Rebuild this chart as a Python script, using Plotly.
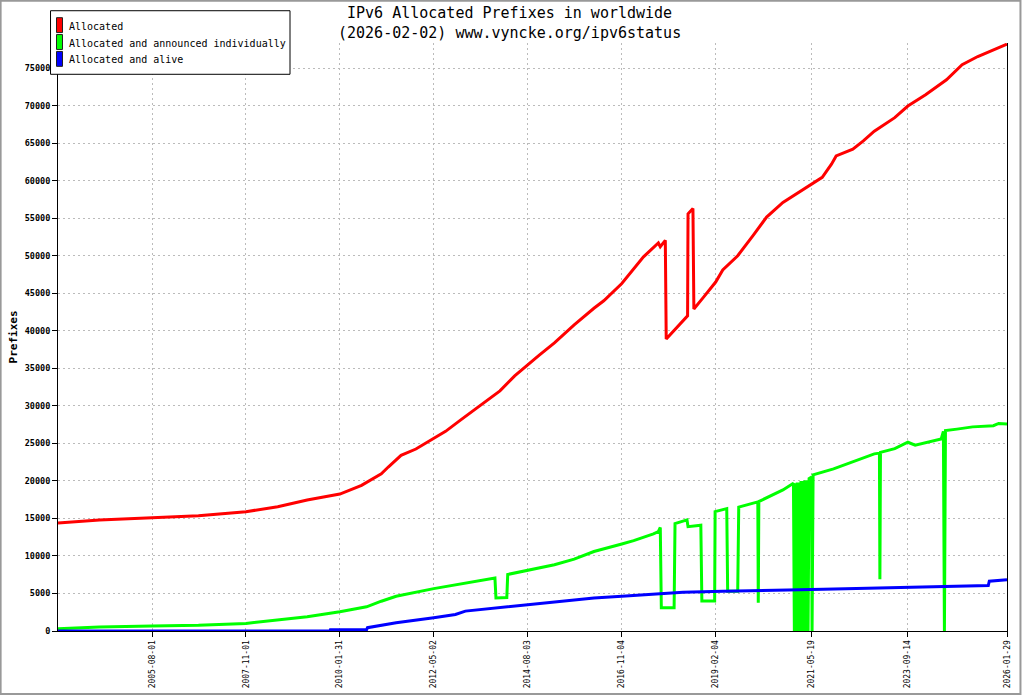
import plotly.graph_objects as go

# Prefix counts
ALLOC_DATES = [
    "2003-04-30", "2004-04-27", "2005-08-01", "2006-09-11", "2007-11-01", "2008-08-05",
    "2009-04-20", "2009-10-10", "2010-01-31", "2010-08-09", "2010-11-04", "2011-01-29",
    "2011-03-31", "2011-07-21", "2011-11-28", "2012-05-02", "2012-08-14", "2012-12-22",
    "2013-06-13", "2013-12-03", "2014-04-11", "2014-08-03", "2014-11-15", "2015-03-25",
    "2015-09-14", "2016-03-05", "2016-05-30", "2016-11-04", "2017-05-13", "2017-09-20",
    "2017-10-07", "2017-11-20", "2017-11-28", "2018-06-03", "2018-06-07", "2018-07-20",
    "2018-07-28", "2018-10-14", "2019-02-04", "2019-04-07", "2019-08-16", "2019-12-26",
    "2020-04-25", "2020-09-15", "2021-01-31", "2021-05-19", "2021-08-25", "2021-11-14",
    "2021-12-25", "2022-05-20", "2022-08-20", "2022-11-24", "2023-05-22", "2023-09-14",
    "2024-02-16", "2024-08-17", "2025-01-01", "2025-05-18", "2025-10-02", "2026-01-29",
]
ALLOC_VALUES = [
    14400, 14800, 15100, 15350, 15900, 16550,
    17450, 17900, 18250, 19400, 20150, 20950,
    21850, 23400, 24250, 25600, 26600, 28100,
    30000, 32000, 34000, 35500, 36800, 38400,
    40800, 43000, 44000, 46300, 49850, 51700,
    51200, 52050, 38900, 42000, 55600, 56300,
    42900, 44350, 46500, 48100, 50000, 52650,
    55150, 57100, 58450, 59550, 60450, 62200,
    63300, 64200, 65300, 66600, 68400, 69950,
    71450, 73450, 75450, 76550, 77400, 78200,
]

ANNOUNCED_DATES = [
    "2003-04-30", "2004-04-27", "2005-08-01", "2006-09-11", "2007-11-01", "2008-08-05",
    "2009-04-20", "2010-01-31", "2010-09-22", "2011-01-29", "2011-06-08", "2012-05-02",
    "2013-02-03", "2013-10-20", "2013-10-29", "2014-02-01", "2014-02-09", "2014-08-03",
    "2015-03-25", "2015-09-14", "2016-03-05", "2016-11-04", "2017-02-16", "2017-08-08",
    "2017-09-20", "2017-10-07", "2017-10-16", "2018-02-05", "2018-02-13", "2018-05-29",
    "2018-06-07", "2018-09-27", "2018-10-06", "2019-01-26", "2019-01-30", "2019-05-12",
    "2019-05-20", "2019-08-16", "2019-08-25", "2020-02-08", "2020-02-12", "2020-02-17",
    "2020-09-15", "2020-12-16", "2020-12-24", "2021-01-01", "2021-01-09", "2021-01-18",
    "2021-01-26", "2021-02-03", "2021-02-11", "2021-02-20", "2021-02-28", "2021-03-10",
    "2021-03-19", "2021-03-28", "2021-04-06", "2021-04-14", "2021-04-23", "2021-05-02",
    "2021-05-24", "2021-05-28", "2021-06-06", "2021-12-02", "2022-11-24", "2023-01-08",
    "2023-01-12", "2023-01-17", "2023-05-22", "2023-09-14", "2023-11-17", "2024-07-02",
    "2024-07-21", "2024-07-30", "2024-08-08", "2024-11-17", "2025-04-03", "2025-10-02",
    "2025-11-17", "2026-01-29",
]
ANNOUNCED_VALUES = [
    300, 530, 660, 750, 1010, 1460,
    1900, 2560, 3220, 3970, 4630, 5650,
    6390, 7060, 4400, 4450, 7540, 8070,
    8820, 9570, 10590, 11600, 12040, 12930,
    13230, 13800, 3100, 3100, 14300, 14800,
    13900, 14100, 4000, 4000, 15900, 16300,
    5300, 5300, 16500, 17200, 3750, 17250,
    18800, 19700, 0, 19700, 0, 19800,
    0, 19800, 0, 20000, 0, 20000,
    0, 20100, 0, 20100, 0, 20300,
    20500, 0, 20800, 21600, 23600, 23700,
    6900, 23800, 24300, 25150, 24750, 25600,
    26600, 0, 26700, 26900, 27200, 27350,
    27650, 27570,
]

ALIVE_DATES = [
    "2003-04-30", "2009-11-05", "2009-11-09", "2010-09-22", "2010-09-30", "2011-06-08",
    "2012-05-02", "2012-11-08", "2013-02-03", "2013-09-24", "2014-04-11", "2014-08-03",
    "2015-03-25", "2016-03-05", "2016-11-04", "2017-08-08", "2018-04-24", "2019-04-07",
    "2019-12-26", "2020-10-29", "2021-09-03", "2022-08-27", "2023-07-06", "2024-05-18",
    "2025-08-18", "2025-08-27", "2026-01-29",
]
ALIVE_VALUES = [
    0, 0, 150, 150, 440, 1100,
    1760, 2200, 2650, 3000, 3350, 3530,
    3840, 4410, 4630, 4940, 5150, 5290,
    5340, 5470, 5560, 5690, 5820, 5960,
    6050, 6640, 6820,
]

SERIES_NAMES = ["Allocated", "Allocated and announced individually", "Allocated and alive"]
SERIES_COLORS = ["#ff0000", "#00ff00", "#0000ff"]

TICK_DATES = [
    "2005-08-01", "2007-11-01", "2010-01-31", "2012-05-02", "2014-08-03",
    "2016-11-04", "2019-02-04", "2021-05-19", "2023-09-14", "2026-01-29",
]
X_START = "2003-04-30"
X_END = "2026-01-29"
Y_MAX = 78350

TITLE = "IPv6 Allocated Prefixes in worldwide<br>(2026-02-02) www.vyncke.org/ipv6status"
MONO = "DejaVu Sans Mono"

# page geometry in pixels
W, H = 1024, 700
L, R, T, B = 58, 15, 43, 65
PW = W - L - R
PH = H - T - B


def px(x):
    return (x - L) / PW


def py(y):
    return (H - B - y) / PH


fig = go.Figure()
series = [
    (ALLOC_DATES, ALLOC_VALUES),
    (ANNOUNCED_DATES, ANNOUNCED_VALUES),
    (ALIVE_DATES, ALIVE_VALUES),
]
for (dates, values), name, color in zip(series, SERIES_NAMES, SERIES_COLORS):
    fig.add_trace(
        go.Scatter(
            x=dates,
            y=values,
            mode="lines",
            name=name,
            line=dict(color=color, width=3),
            showlegend=False,
        )
    )

# hand-drawn legend box, like the original image
shapes = [
    dict(type="rect", xref="paper", yref="paper", x0=px(0.5), x1=px(W - 1.5), y0=py(0.5), y1=py(H - 1.5),
         line=dict(color="#999999", width=2), fillcolor="rgba(0,0,0,0)", layer="above"),
    dict(type="rect", xref="paper", yref="paper", x0=px(50.5), x1=px(290.5), y0=py(10.5), y1=py(74.5),
         line=dict(color="black", width=1), fillcolor="white", layer="above"),
]
annotations = [
    dict(xref="paper", yref="paper", x=px(W / 2 - 2), y=py(23), xanchor="center", yanchor="middle",
         text=TITLE, showarrow=False, align="center",
         font=dict(family=MONO, size=15, color="black")),
]
for i, (name, color) in enumerate(zip(SERIES_NAMES, SERIES_COLORS)):
    top = 17.5 + 17 * i
    shapes.append(
        dict(type="rect", xref="paper", yref="paper", x0=px(56.5), x1=px(62.5), y0=py(top), y1=py(top + 15),
             line=dict(color="#202020", width=1), fillcolor=color, layer="above")
    )
    annotations.append(
        dict(xref="paper", yref="paper", x=px(67), y=py(top + 8.5), xanchor="left", yanchor="middle",
             text=name, showarrow=False, font=dict(family=MONO, size=10, color="black"))
    )

fig.update_layout(
    width=W,
    height=H,
    margin=dict(l=L, r=R, t=T, b=B),
    paper_bgcolor="white",
    plot_bgcolor="white",
    shapes=shapes,
    annotations=annotations,
    font=dict(family=MONO, color="black"),
)
fig.update_xaxes(
    type="date",
    range=[X_START, X_END],
    tickvals=TICK_DATES,
    tickformat="%Y-%m-%d",
    tickangle=-90,
    tickfont=dict(family=MONO, size=8, color="black"),
    showline=True,
    linecolor="black",
    linewidth=1,
    ticks="outside",
    ticklen=5,
    tickcolor="black",
    showgrid=True,
    gridcolor="#bbbbbb",
    griddash="2px,3px",
    gridwidth=1,
    zeroline=False,
)
fig.update_yaxes(
    range=[0, Y_MAX],
    dtick=5000,
    tick0=0,
    tickformat="d",
    tickfont=dict(family=MONO, size=8.5, color="black", weight="bold"),
    title=dict(text="Prefixes", font=dict(family=MONO, size=11, color="black", weight="bold"), standoff=4),
    showline=True,
    mirror=True,
    linecolor="black",
    linewidth=1,
    ticks="outside",
    ticklen=5,
    tickcolor="black",
    showgrid=True,
    gridcolor="#bbbbbb",
    griddash="2px,3px",
    gridwidth=1,
    zeroline=False,
)

fig.write_html(
    "out.html",
    config={"displayModeBar": False},
    post_script=(
        "document.body.style.margin='0';"
        "document.body.style.overflow='hidden';"
        "document.documentElement.style.overflow='hidden';"
    ),
)
